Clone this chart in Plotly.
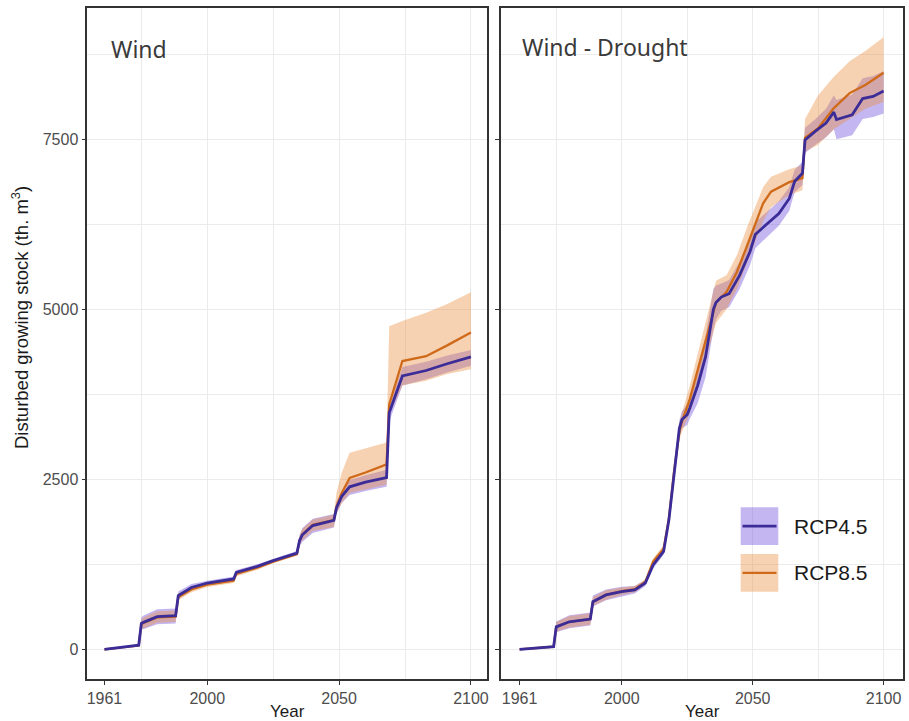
import plotly.graph_objects as go

# ---------------- Data: cumulative disturbed growing stock (th. m3) ----------------
# Panel "Wind"
wind_years = [1961, 1974, 1975, 1976, 1981, 1988, 1989, 1994, 2000, 2010, 2011, 2012,
              2019, 2025, 2034, 2035, 2036, 2040, 2048, 2049, 2051, 2054, 2060, 2068,
              2069, 2074, 2083, 2091, 2100]
wind_rcp45 = [0, 60, 380, 400, 480, 495, 790, 910, 975, 1035, 1130, 1140,
              1220, 1305, 1415, 1600, 1680, 1820, 1895, 2080, 2250, 2390, 2460, 2525,
              3480, 4020, 4100, 4200, 4300]
wind_rcp45_lo = [0, 50, 290, 300, 370, 380, 740, 870, 940, 1000, 1095, 1105,
                 1190, 1280, 1390, 1520, 1580, 1710, 1790, 1990, 2150, 2270, 2330, 2390,
                 3350, 3880, 3970, 4070, 4170]
wind_rcp45_hi = [0, 70, 470, 500, 590, 600, 850, 960, 1010, 1070, 1165, 1175,
                 1250, 1330, 1445, 1680, 1780, 1920, 1990, 2170, 2330, 2490, 2560, 2640,
                 3580, 4150, 4230, 4320, 4400]
wind_rcp85 = [0, 55, 370, 390, 470, 480, 770, 880, 950, 1010, 1110, 1120,
              1200, 1290, 1400, 1600, 1690, 1830, 1900, 2100, 2300, 2520, 2600, 2720,
              3600, 4240, 4310, 4470, 4660]
wind_rcp85_lo = [0, 45, 300, 310, 390, 400, 720, 840, 915, 975, 1075, 1085,
                 1170, 1265, 1375, 1540, 1600, 1740, 1800, 2000, 2150, 2300, 2350, 2420,
                 3450, 3880, 3950, 4050, 4120]
wind_rcp85_hi = [0, 65, 440, 470, 560, 570, 820, 920, 985, 1045, 1145, 1155,
                 1230, 1315, 1425, 1660, 1770, 1910, 1980, 2300, 2600, 2890, 2950, 3040,
                 4750, 4830, 4950, 5080, 5250]

# Panel "Wind - Drought"
wd45_years = [1961, 1974, 1975, 1980, 1988, 1989, 1994, 2000, 2005, 2009, 2012, 2016,
              2018, 2020, 2021, 2022, 2023, 2025, 2026, 2029, 2032, 2035, 2036, 2038,
              2041, 2045, 2049, 2051, 2055, 2060, 2064, 2066, 2069, 2070, 2074, 2078,
              2081, 2082, 2088, 2092, 2096, 2100]
wd_rcp45 = [0, 40, 330, 405, 445, 700, 800, 850, 875, 975, 1240, 1440,
            1900, 2600, 3000, 3250, 3380, 3450, 3550, 3880, 4300, 5000, 5100, 5180,
            5230, 5500, 5850, 6100, 6240, 6410, 6630, 6880, 7000, 7490, 7620, 7740,
            7900, 7790, 7860, 8100, 8130, 8210]
wd_rcp45_lo = [0, 30, 250, 310, 350, 630, 720, 780, 820, 930, 1190, 1390,
               1840, 2520, 2900, 3130, 3250, 3300, 3390, 3620, 4000, 4700, 4850, 4980,
               5030, 5300, 5650, 5900, 6050, 6230, 6450, 6720, 6830, 7300, 7420, 7530,
               7650, 7500, 7560, 7800, 7830, 7880]
wd_rcp45_hi = [0, 50, 410, 500, 540, 790, 880, 920, 930, 1020, 1290, 1490,
               1960, 2680, 3100, 3370, 3500, 3600, 3710, 4140, 4600, 5300, 5350, 5380,
               5430, 5700, 6050, 6280, 6420, 6590, 6800, 7050, 7170, 7670, 7800, 7950,
               8150, 8080, 8160, 8400, 8430, 8500]

wd85_years = [1961, 1974, 1975, 1980, 1988, 1989, 1994, 2000, 2005, 2009, 2012, 2016,
              2018, 2020, 2022, 2023, 2026, 2031, 2036, 2040, 2044, 2048, 2051, 2054,
              2057, 2064, 2069, 2070, 2075, 2081, 2087, 2093, 2100]
wd_rcp85 = [0, 40, 330, 405, 445, 700, 800, 855, 885, 990, 1290, 1480,
            1920, 2620, 3200, 3350, 3680, 4370, 5100, 5255, 5550, 5950, 6260, 6560,
            6730, 6870, 6930, 7520, 7665, 7960, 8180, 8300, 8480]
wd_rcp85_lo = [0, 30, 260, 320, 360, 640, 730, 800, 840, 950, 1240, 1430,
               1860, 2540, 3080, 3200, 3480, 4100, 4800, 5000, 5300, 5700, 6000, 6300,
               6500, 6680, 6750, 7320, 7420, 7650, 7800, 7950, 8050]
wd_rcp85_hi = [0, 50, 400, 490, 530, 770, 870, 910, 930, 1030, 1340, 1530,
               1980, 2700, 3320, 3480, 3880, 4650, 5420, 5500, 5800, 6220, 6520, 6800,
               6950, 7060, 7120, 7800, 8150, 8420, 8650, 8800, 9000]

scenarios = ["RCP4.5", "RCP8.5"]
panel_titles = ["Wind", "Wind - Drought"]
x_tick_vals = [1961, 2000, 2050, 2100]
x_grid_vals = [1975, 2000, 2025, 2050, 2075, 2100]
y_tick_vals = [0, 2500, 5000, 7500]
y_grid_vals = [1250, 3750, 6250, 8750]

# ---------------- Styling ----------------
W, H = 909, 721
LINE_COL = {"RCP4.5": "#3B2C98", "RCP8.5": "#CF6A1A"}
FILL_COL = {"RCP4.5": "rgba(120,90,222,0.44)", "RCP8.5": "rgba(236,142,62,0.40)"}
LINE_W = {"RCP4.5": 2.8, "RCP8.5": 2.3}
GRID = "#EBEBEB"
FRAME = "#333333"
TICK_FONT = dict(family="Liberation Sans, Arial, sans-serif", size=16, color="#4D4D4D")


def px_x(p):
    return p / W


def px_y(p):
    return 1 - p / H


panels = [
    {"x": "x", "y": "y", "series": [
        ("RCP4.5", wind_years, wind_rcp45, wind_rcp45_lo, wind_rcp45_hi),
        ("RCP8.5", wind_years, wind_rcp85, wind_rcp85_lo, wind_rcp85_hi)]},
    {"x": "x2", "y": "y2", "series": [
        ("RCP4.5", wd45_years, wd_rcp45, wd_rcp45_lo, wd_rcp45_hi),
        ("RCP8.5", wd85_years, wd_rcp85, wd_rcp85_lo, wd_rcp85_hi)]},
]

fig = go.Figure()
for pan in panels:
    # uncertainty ribbons
    for name, yrs, mid, lo, hi in pan["series"]:
        fig.add_trace(go.Scatter(x=yrs, y=lo, xaxis=pan["x"], yaxis=pan["y"], mode="lines",
                                 line=dict(width=0, color=FILL_COL[name]), hoverinfo="skip",
                                 showlegend=False))
        fig.add_trace(go.Scatter(x=yrs, y=hi, xaxis=pan["x"], yaxis=pan["y"], mode="lines",
                                 line=dict(width=0, color=FILL_COL[name]), fill="tonexty",
                                 fillcolor=FILL_COL[name], hoverinfo="skip", showlegend=False))
    # mean lines (RCP4.5 drawn last so it stays on top)
    for name, yrs, mid, lo, hi in reversed(pan["series"]):
        fig.add_trace(go.Scatter(x=yrs, y=mid, xaxis=pan["x"], yaxis=pan["y"], mode="lines",
                                 name=name, line=dict(width=LINE_W[name], color=LINE_COL[name]),
                                 showlegend=False))

common_x = dict(tickmode="array", tickvals=x_tick_vals, ticktext=[str(v) for v in x_tick_vals],
                showgrid=False, zeroline=False, showline=True, mirror=True, linecolor=FRAME,
                linewidth=1.6, ticks="outside", ticklen=4, tickwidth=1.1, tickcolor=FRAME,
                tickfont=TICK_FONT, automargin=False,
                minor=dict(tickmode="array", tickvals=x_grid_vals, showgrid=True,
                           gridcolor=GRID, gridwidth=1.1))
common_y = dict(tickmode="array", tickvals=y_tick_vals, range=[-441, 9427],
                showgrid=True, gridcolor=GRID, gridwidth=1.1, zeroline=False,
                showline=True, mirror=True, linecolor=FRAME, linewidth=1.6,
                ticks="outside", ticklen=4, tickwidth=1.1, tickcolor=FRAME,
                tickfont=TICK_FONT, automargin=False,
                minor=dict(tickmode="array", tickvals=y_grid_vals, showgrid=True,
                           gridcolor=GRID, gridwidth=1.1))

y_dom = [px_y(679.3), px_y(8.3)]
fig.update_layout(
    width=W, height=H,
    margin=dict(l=0, r=0, t=0, b=0),
    paper_bgcolor="white", plot_bgcolor="white",
    showlegend=False,
    xaxis=dict(common_x, domain=[px_x(87.3), px_x(487.3)], range=[1954.5, 2106.2]),
    xaxis2=dict(common_x, domain=[px_x(501), px_x(903)], range=[1953.9, 2107.4]),
    yaxis=dict(common_y, domain=y_dom, anchor="x"),
    yaxis2=dict(common_y, domain=y_dom, anchor="x2", showticklabels=False),
)

annotations = []
# panel titles
title_font = dict(family="Noto Sans, Open Sans, sans-serif", size=23, color="#3A3A3A")
annotations.append(dict(text=panel_titles[0], xref="paper", yref="paper", x=px_x(109),
                        y=px_y(49), xanchor="left", yanchor="middle", showarrow=False,
                        font=title_font))
annotations.append(dict(text=panel_titles[1], xref="paper", yref="paper", x=px_x(520),
                        y=px_y(47.5), xanchor="left", yanchor="middle", showarrow=False,
                        font=title_font))
# axis titles
label_font = dict(family="Liberation Sans, Arial, sans-serif", size=17, color="#1A1A1A")
for cx in (287.3, 702):
    annotations.append(dict(text="Year", xref="paper", yref="paper", x=px_x(cx), y=px_y(711),
                            xanchor="center", yanchor="middle", showarrow=False, font=label_font))
annotations.append(dict(text="Disturbed growing stock (th. m<sup>3</sup>)", xref="paper",
                        yref="paper", x=px_x(20), y=px_y(318), textangle=-90,
                        xanchor="center", yanchor="middle", showarrow=False,
                        font=dict(family="Liberation Sans, Arial, sans-serif", size=18.5,
                                  color="#1A1A1A")))

# legend drawn as keys inside the right panel
shapes = []
legend_font = dict(family="Liberation Sans, Arial, sans-serif", size=21, color="#1A1A1A")
for i, name in enumerate(scenarios):
    top = 507.3 + i * 46.7
    bot = top + 37.7
    mid = (top + bot) / 2
    shapes.append(dict(type="rect", xref="paper", yref="paper", x0=px_x(740.7), x1=px_x(778.3),
                       y0=px_y(bot), y1=px_y(top), fillcolor=FILL_COL[name], line=dict(width=0)))
    shapes.append(dict(type="line", xref="paper", yref="paper", x0=px_x(742.5), x1=px_x(776.5),
                       y0=px_y(mid), y1=px_y(mid), line=dict(color=LINE_COL[name],
                                                           width=LINE_W[name])))
    annotations.append(dict(text=name, xref="paper", yref="paper", x=px_x(792), y=px_y(mid),
                            xanchor="left", yanchor="middle", showarrow=False, font=legend_font))

# blank patch over the grid in the right panel
shapes.append(dict(type="rect", xref="paper", yref="paper", x0=px_x(800), x1=px_x(877),
                   y0=px_y(377), y1=px_y(303), fillcolor="white", line=dict(width=0),
                   layer="between"))

fig.update_layout(annotations=annotations, shapes=shapes)
fig.write_html("out.html")
